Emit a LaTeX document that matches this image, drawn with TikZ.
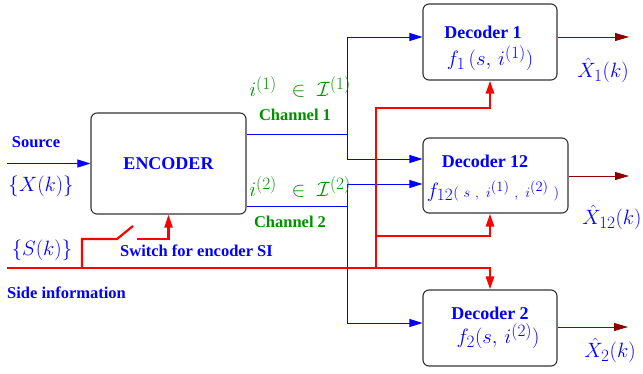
\documentclass[tikz,border=0pt]{standalone}
\usepackage{fontspec}
\setmainfont{Liberation Serif}
\usetikzlibrary{arrows.meta}
\DeclareMathSizes{20}{20.74}{17.28}{12}
\DeclareMathSizes{14}{14.4}{14.4}{10}
\definecolor{chgreen}{RGB}{0,144,0}
\definecolor{outred}{RGB}{140,0,0}
\tikzset{
  blk/.style={draw=black!80, line width=1.1pt, rounded corners=6pt, fill=white},
  bl/.style={blue, line width=0.8pt},
  blarrow/.style={bl, -{Triangle[length=13pt,width=8pt]}},
  rd/.style={red, line width=2.6pt},
  rdarrow/.style={rd, -{Triangle[length=13pt,width=8pt]}},
  outarrow/.style={outred, line width=0.8pt, -{Triangle[length=14pt,width=8pt]}},
  inlbl/.style={text=blue, font=\fontsize{18}{20}\selectfont\bfseries, inner sep=0pt},
  outlbl/.style={text=blue, font=\fontsize{16.5}{18}\selectfont\bfseries, inner sep=0pt},
  grlbl/.style={text=chgreen, font=\fontsize{16.5}{18}\selectfont\bfseries, inner sep=0pt},
  mth/.style={text=blue, font=\fontsize{20}{22}\selectfont, inner sep=0pt},
  grmth/.style={text=chgreen, font=\fontsize{20}{22}\selectfont, inner sep=0pt},
}
\newcommand{\smallargs}[1]{{\fontsize{14}{16}\selectfont$#1$}}
\begin{document}
\begin{tikzpicture}[x=1pt, y=-1pt]
\useasboundingbox (0,0) rectangle (643,373);

% blocks
\node[blk, minimum width=155pt, minimum height=101pt, inlbl] (enc) at (168.5,163.5) {ENCODER};
\node[blk, minimum width=134pt, minimum height=76pt] (dec1) at (490,42) {};
\node[blk, minimum width=145pt, minimum height=75pt] (dec12) at (495.5,175.5) {};
\node[blk, minimum width=134pt, minimum height=76pt] (dec2) at (490,328) {};

% block texts
\node[inlbl] (d1t) at (483,32) {Decoder 1};
\node[mth] (d1f) at (490,58) {$f_1\,(s,\,i^{(1)})$};
\node[inlbl] (d12t) at (485,161) {Decoder 12};
\node[mth] (d12f) at (493,191) {$f_{12}$\smallargs{(\mkern6mu s\mkern6mu,\mkern6mu i^{(1)}\mkern6mu,\mkern6mu i^{(2)}\mkern6mu)}};
\node[inlbl] (d2t) at (490,313) {Decoder 2};
\node[mth] (d2f) at (498,336) {$f_2(s,\,i^{(2)})$};

% source input
\coordinate (srcL) at (7,163.5);
\draw[blarrow] (srcL) -- (enc.west);
\node[outlbl] (srclbl) at (36,142) {Source};
\node[mth] (xk) at (41,186) {$\{X(k)\}$};

% channel 1
\coordinate (c1) at (347,134);
\coordinate (c1top) at (347,37);
\coordinate (c1bot) at (347,159);
\draw[bl] (enc.east |- c1) -- (c1);
\draw[blarrow] (c1bot) -- (c1top) -- (dec1.west |- c1top);
\draw[blarrow] (c1top) -- (c1bot) -- (dec12.west |- c1bot);

% channel 2
\coordinate (c2) at (347,206);
\coordinate (c2top) at (347,184);
\coordinate (c2bot) at (347,323);
\draw[bl] (enc.east |- c2) -- (c2);
\draw[blarrow] (c2bot) -- (c2top) -- (dec12.west |- c2top);
\draw[blarrow] (c2top) -- (c2bot) -- (dec2.west |- c2bot);

\node[grmth] (i1) at (300,87) {$i^{(1)}\hspace{9pt}\in\hspace{6pt}\mathcal{I}^{(1)}$};
\node[grlbl] (ch1) at (295,115) {Channel 1};
\node[grmth] (i2) at (300,187) {$i^{(2)}\hspace{9pt}\in\hspace{6pt}\mathcal{I}^{(2)}$};
\node[grlbl] (ch2) at (290,222) {Channel 2};

% side information
\coordinate (siL) at (7,268);
\coordinate (siR) at (490,268);
\coordinate (rv) at (376,268);
\coordinate (rv1) at (376,108);
\coordinate (rv12) at (376,236);
\draw[rdarrow] (siL) -- (siR) -- (dec2.north -| siR);
\draw[rdarrow] (rv) -- (rv1) -| (dec1.south -| siR);
\draw[rdarrow] (rv12) -| (dec12.south -| siR);

% encoder side-information switch
\coordinate (sw0) at (82,268);
\coordinate (sw1) at (82,239);
\coordinate (sw2) at (117,239);
\coordinate (sw3) at (133,226);
\coordinate (sw4) at (137,239);
\draw[rd, line width=2.2pt] (sw0) -- (sw1) -- (sw2) -- (sw3);
\draw[rdarrow, line width=2.2pt] (sw4) -| (enc.south);

\node[mth] (sk) at (42,250) {$\{S(k)\}$};
\node[outlbl, anchor=west] (swlbl) at (120,251) {Switch for encoder SI};
\node[outlbl, anchor=west] (silbl) at (7,293) {Side information};

% outputs
\coordinate (o1) at (629,37);
\coordinate (o12) at (629,176);
\coordinate (o2) at (628,327);
\draw[outarrow] (dec1.east |- o1) -- (o1);
\draw[outarrow] (dec12.east |- o12) -- (o12);
\draw[outarrow] (dec2.east |- o2) -- (o2);
\node[mth] (x1) at (603,70) {$\hat{X}_1(k)$};
\node[mth] (x12) at (612,217) {$\hat{X}_{12}(k)$};
\node[mth] (x2) at (610,350) {$\hat{X}_2(k)$};
\end{tikzpicture}
\end{document}
